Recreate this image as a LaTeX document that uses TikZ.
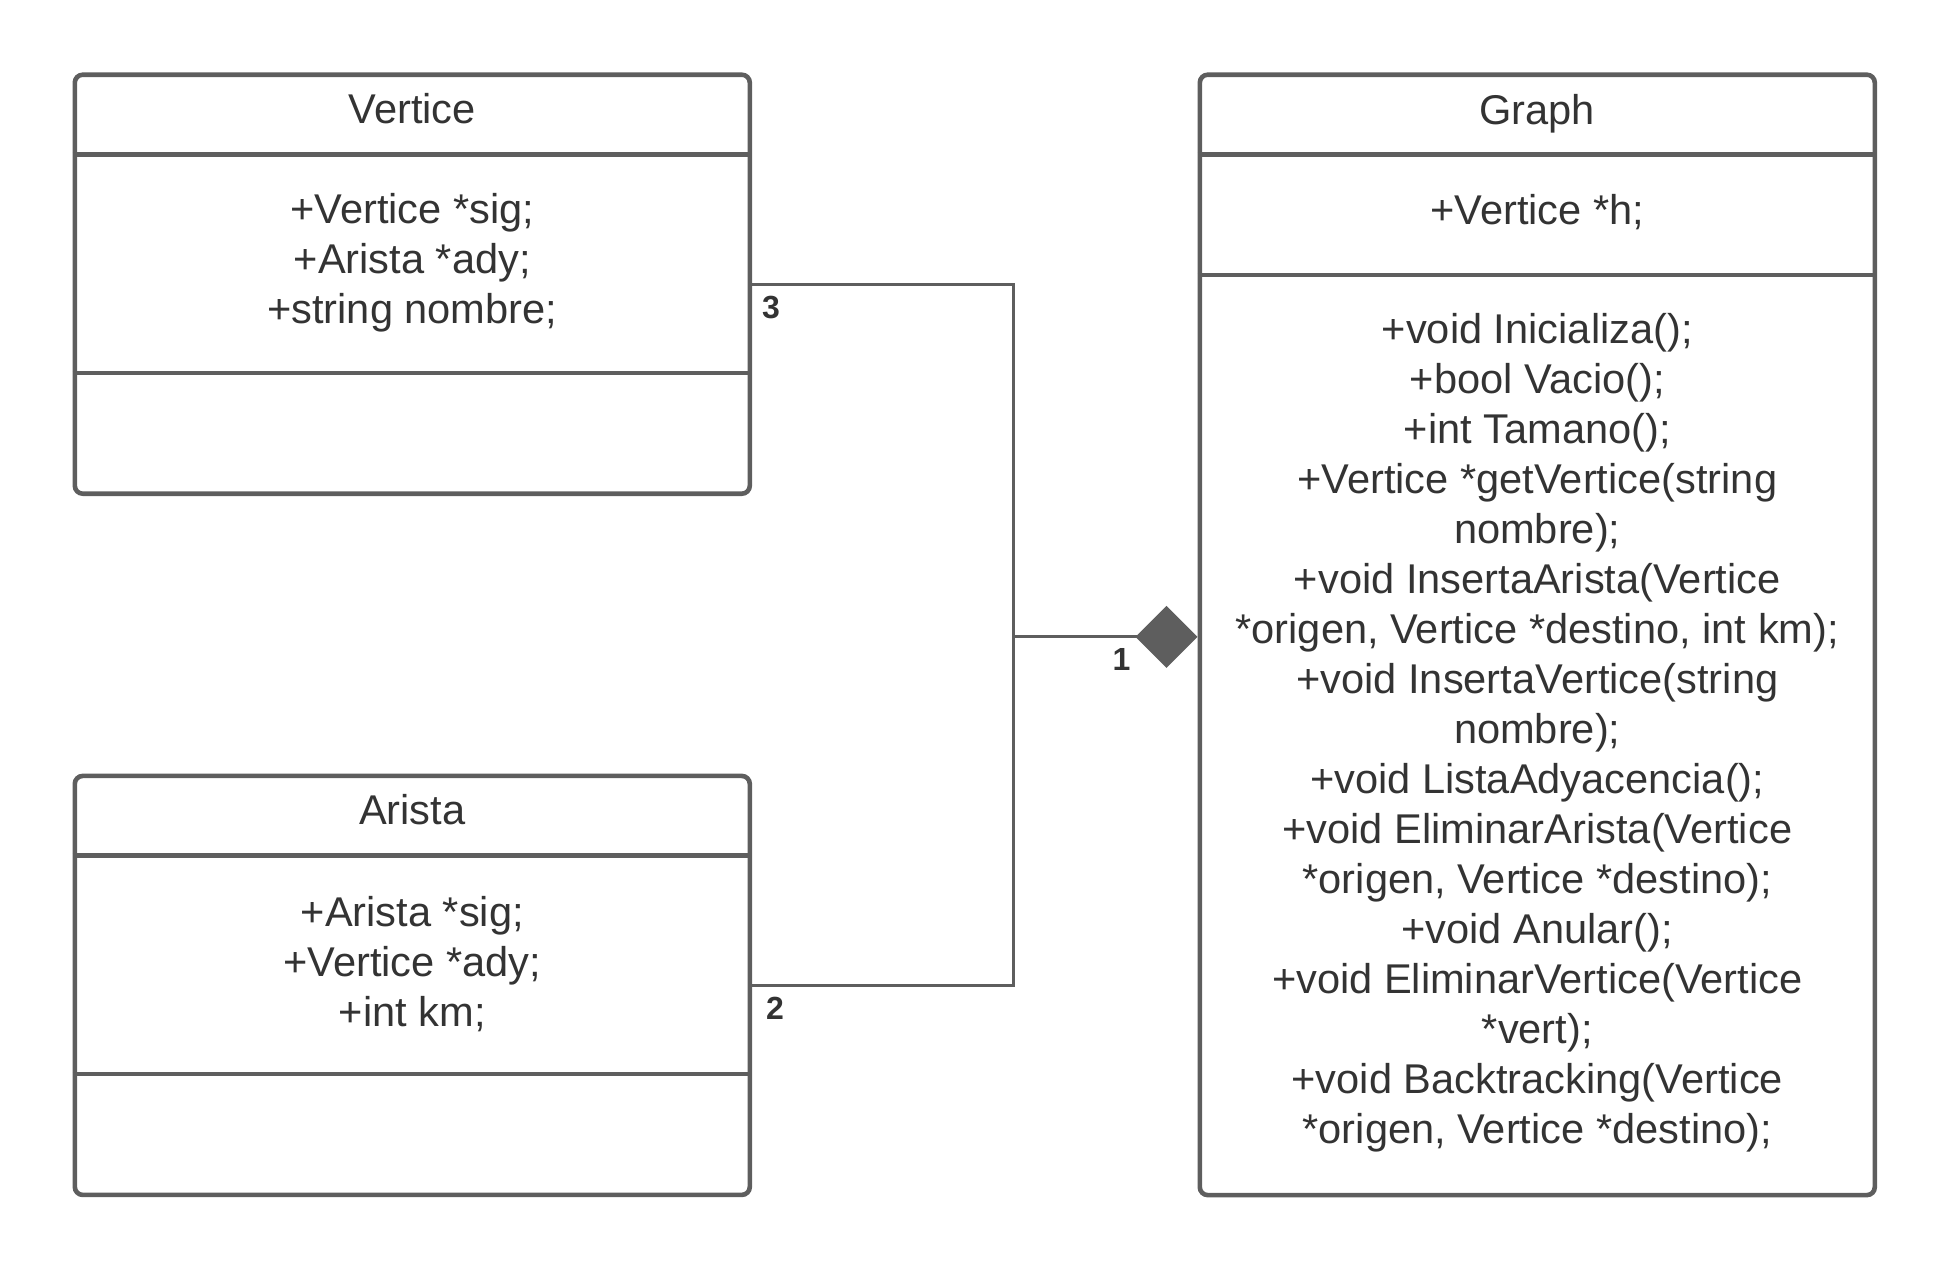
\documentclass[tikz,border=0pt]{standalone}
\usepackage{fontspec}
\setmainfont{Liberation Sans}
\usetikzlibrary{positioning,arrows.meta,calc}
\definecolor{umlline}{HTML}{5E5E5E}
\definecolor{umltext}{HTML}{333333}
\newcommand{\umlfont}{\fontsize{20.8}{25}\selectfont}
\newcommand{\multfont}{\fontsize{16}{18}\selectfont\bfseries}

\begin{document}
\begin{tikzpicture}[x=0.5pt,y=-0.5pt,
  classbox/.style={draw=umlline,line width=2.3pt,rounded corners=4pt,minimum width=337.5pt,inner sep=0pt},
  sepline/.style={draw=umlline,line width=2.3pt},
  txt/.style={font=\umlfont,text=umltext,align=center,inner sep=0pt},
  conn/.style={draw=umlline,line width=1.5pt},
  mult/.style={font=\multfont,text=umltext,inner sep=0pt}]
  \useasboundingbox (0,0) rectangle (1950,1271);
  \node[classbox,minimum height=209.5pt] (vert) at (412.3,284.2) {};
  \node[classbox,minimum height=209.5pt,below=138.8pt of vert] (arista) {};
  \node[classbox,minimum height=560.2pt,right=222.7pt of vert.north east,anchor=north west] (graph) {};
  \foreach \n/\d in {vert/82,vert/300.5,arista/82,arista/300.5,graph/82,graph/202.5}
    \draw[sepline] ([shift={(0,\d)}]\n.north west) -- ([shift={(0,\d)}]\n.north east);
  % class texts
  \node[txt] (vertT) at ([shift={(0,36)}]vert.north) {Vertice};
  \node[txt] (vertA) at ([shift={(0,190)}]vert.north) {+Vertice *sig;\\+Arista *ady;\\+string nombre;};
  \node[txt] (aristaT) at ([shift={(0,36)}]arista.north) {Arista};
  \node[txt] (aristaA) at ([shift={(0,190)}]arista.north) {+Arista *sig;\\+Vertice *ady;\\+int km;};
  \node[txt] (graphT) at ([shift={(0,41)}]graph.north) {Graph};
  \node[txt] (graphA) at ([shift={(0,140)}]graph.north) {+Vertice *h;};
  \node[txt] (graphM) at ([shift={(0,660)}]graph.north)
    {+void Inicializa();\\+bool Vacio();\\+int Tamano();\\+Vertice *getVertice(string\\nombre);\\
     +void InsertaArista(Vertice\\*origen, Vertice *destino, int km);\\+void InsertaVertice(string\\nombre);\\
     +void ListaAdyacencia();\\+void EliminarArista(Vertice\\*origen, Vertice *destino);\\+void Anular();\\
     +void EliminarVertice(Vertice\\*vert);\\+void Backtracking(Vertice\\*origen, Vertice *destino);};
  % composition
  \coordinate (junc) at ([shift={(261,2)}]vert.east |- graph.west);
  \coordinate (gtip) at (graph.west |- junc);
  \draw[conn] (vert.east) -| (junc) |- (arista.east);
  \draw[conn,-{Diamond[length=31pt,width=31pt]}] (junc) -- (gtip);
  \node[mult] (m3) at ([shift={(19,23)}]vert.east) {3};
  \node[mult] (m2) at ([shift={(23,23)}]arista.east) {2};
  \node[mult] (m1) at ([shift={(-76,25)}]graph.west) {1};
\end{tikzpicture}
\end{document}
